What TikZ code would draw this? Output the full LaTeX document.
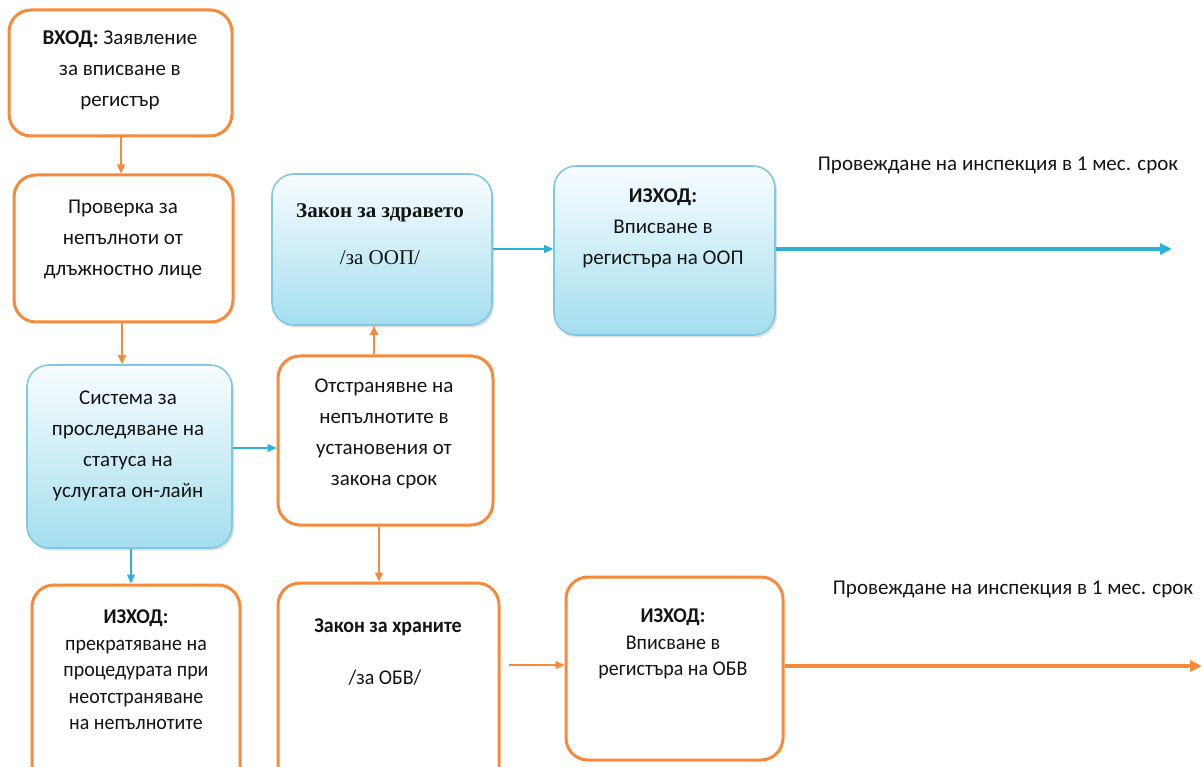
\documentclass[tikz,border=0pt]{standalone}
\usepackage{fontspec}
\setmainfont{Carlito}
\newfontfamily\serifcyr{Liberation Serif}
\newfontfamily\condfont{Carlito}[FakeStretch=0.95]
\usetikzlibrary{arrows.meta,shadows}
\definecolor{org}{RGB}{247,137,58}
\definecolor{barr}{RGB}{43,176,217}
\definecolor{bbord}{RGB}{126,200,226}
\definecolor{btop}{RGB}{248,253,255}
\definecolor{bbot}{RGB}{164,222,238}
\definecolor{ink}{RGB}{20,20,20}
\begin{document}
\begin{tikzpicture}[x=1pt,y=-1pt,
  box/.style={rectangle, rounded corners=22pt, inner sep=0pt},
  obox/.style={box, draw=org, line width=3pt, fill=white},
  bbox/.style={box, draw=bbord, line width=1.6pt, top color=btop, bottom color=bbot,
    drop shadow={shadow xshift=2pt,shadow yshift=-2.5pt,opacity=0.25}},
  txt/.style={align=center, text=ink, font=\fontsize{21}{31}\selectfont},
  ctxt/.style={align=center, text=ink, font=\condfont\fontsize{21}{26.5}\selectfont},
  stxt/.style={align=center, text=ink, font=\serifcyr\fontsize{21}{24}\selectfont},
  oarrow/.style={draw=org, line width=1.5pt, -{Triangle[length=9pt,width=8pt]}},
  barrow/.style={draw=barr, line width=1.5pt, -{Triangle[length=9pt,width=8pt]}},
  oarrowT/.style={draw=org, line width=3.5pt, -{Triangle[length=12pt,width=11pt]}},
  barrowT/.style={draw=barr, line width=3.5pt, -{Triangle[length=12pt,width=11pt]}}]
\useasboundingbox (0,0) rectangle (1203,767);
\clip (0,0) rectangle (1203,767);
\fill[white] (0,0) rectangle (1203,767);

% boxes
\node[obox, minimum width=223pt, minimum height=126pt] (b1) at (120.5,73) {};
\node[obox, minimum width=219pt, minimum height=147pt] (b2) at (123.5,248.5) {};
\node[bbox, minimum width=205pt, minimum height=183pt] (b3) at (129.5,456.5) {};
\node[bbox, minimum width=220pt, minimum height=151pt] (b4) at (382,249.5) {};
\node[bbox, minimum width=221pt, minimum height=169pt] (b5) at (664.5,250.5) {};
\node[obox, minimum width=215pt, minimum height=169pt] (b6) at (385.5,440.5) {};
\node[obox, minimum width=208pt, minimum height=215pt] (b7) at (136,692.5) {};
\node[obox, minimum width=221pt, minimum height=217pt] (b8) at (388.5,691.5) {};
\node[obox, minimum width=217pt, minimum height=183pt] (b9) at (674.5,668.5) {};

% texts
\node[txt] (t1) at (120,70) {\textbf{ВХОД:} Заявление\\за вписване в\\регистър};
\node[txt] (t2) at (123,239) {Проверка за\\непълноти от\\длъжностно лице};
\node[txt] (t3) at (128,446) {Система за\\проследяване на\\статуса на\\услугата он-лайн};
\node[stxt] (t4a) at (380,213) {\bfseries Закон за здравето};
\node[stxt] (t4b) at (380,258) {/за ООП/};
\node[txt] (t5) at (663,228) {\textbf{ИЗХОД:}\\Вписване в\\регистъра на ООП};
\node[txt] (t6) at (384,434) {Отстранявне на\\непълнотите в\\установения от\\закона срок};
\node[ctxt] (t7) at (136,670) {\textbf{ИЗХОД:}\\прекратяване на\\процедурата при\\неотстраняване\\на непълнотите};
\node[ctxt] (t8a) at (388,627) {\textbf{Закон за храните}};
\node[ctxt] (t8b) at (385,678) {/за ОБВ/};
\node[ctxt] (t9) at (673,644) {\textbf{ИЗХОД:}\\Вписване в\\регистъра на ОБВ};
\node[txt] (l1) at (998,165) {Провеждане на инспекция в 1 мес. срок};
\node[txt] (l2) at (1013,589) {Провеждане на инспекция в 1 мес. срок};

% free ends
\coordinate (e1) at (1172,249);
\coordinate (e2) at (1202,666);
\coordinate (s2) at (509,665);

% connectors
\draw[oarrow] (b1.south -| 121,0) -- (b2.north -| 121,0);
\draw[oarrow] (b2.south -| 122,0) -- (b3.north -| 122,0);
\draw[barrow] (b3.east |- 0,448) -- (b6.west |- 0,448);
\draw[barrow] (b3.south -| 131,0) -- (b7.north -| 131,0);
\draw[oarrow] (b6.north -| 374,0) -- (b4.south -| 374,0);
\draw[oarrow] (b6.south -| 379,0) -- (b8.north -| 379,0);
\draw[barrow] (b4.east |- 0,249) -- (b5.west |- 0,249);
\draw[barrowT] (b5.east |- e1) -- (e1);
\draw[oarrow] (s2) -- (b9.west |- s2);
\draw[oarrowT] (b9.east |- e2) -- (e2);
\end{tikzpicture}
\end{document}
